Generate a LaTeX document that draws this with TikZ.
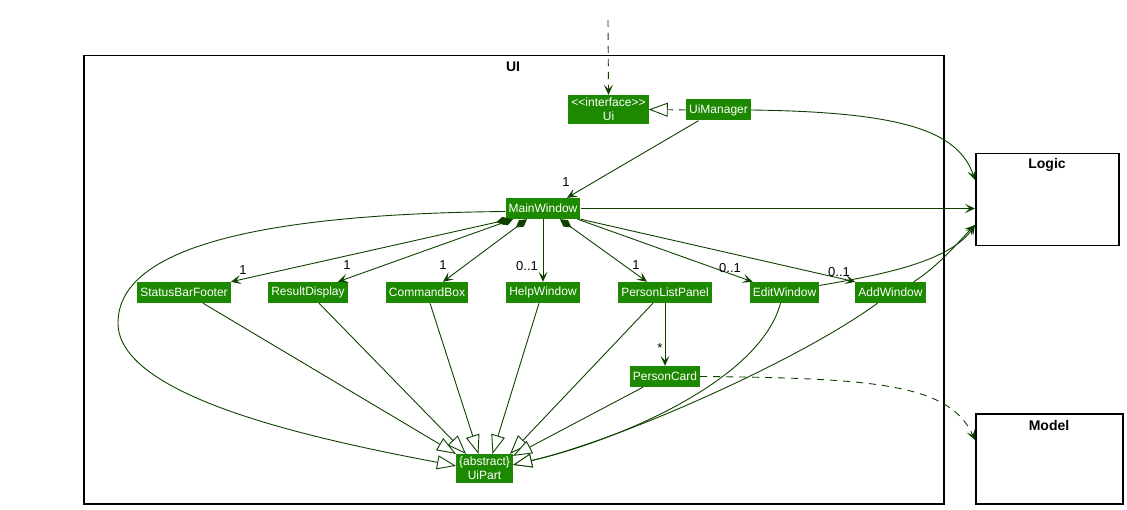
\documentclass[tikz,border=0pt]{standalone}
\usepackage{fontspec}
\usepackage{xcolor}
\newfontfamily\umlfont{Liberation Sans}
\usepackage{tikz}
\usetikzlibrary{arrows.meta,positioning,calc}
\definecolor{uigreen}{HTML}{1D8900}
\definecolor{uiline}{HTML}{0E4100}

\begin{document}
\begin{tikzpicture}[x=1pt,y=-1pt,>={Stealth[length=10pt,width=9pt,inset=4.5pt]},
cls/.style={fill=uigreen,text=white,font=\umlfont\fontsize{12}{14}\selectfont,inner xsep=3pt,inner ysep=0pt,minimum height=21pt,align=center},
pkg/.style={draw=black,line width=1.5pt,anchor=north west},
title/.style={font=\umlfont\bfseries\fontsize{14}{16}\selectfont},
mult/.style={font=\umlfont\fontsize{13}{15}\selectfont,inner sep=0pt},
link/.style={draw=uiline,line width=0.9pt},
assoc/.style={link,->},
comp/.style={link,{Diamond[length=14pt,width=8pt]}->},
ext/.style={link,-{Triangle[fill=white,length=19pt,width=14pt]}},
real/.style={ext,dash pattern=on 7pt off 6pt},
dep/.style={link,->,dash pattern=on 7pt off 6pt}]
\useasboundingbox (0,0) rectangle (1127,510);
\node[pkg,minimum width=860pt,minimum height=448pt](uipkg) at (83,55){};
\node[title](uititle) at (513,67){UI};
\node[pkg,minimum width=143pt,minimum height=92pt](logic) at (975,153){};
\node[title](logictitle) at (1047,165){Logic};
\node[pkg,minimum width=147pt,minimum height=90pt](model) at (975,413){};
\node[title](modeltitle) at (1049,425){Model};

\node[cls,inner ysep=3pt](ui) at (608.5,109.5){<<interface>>\\Ui};
\node[cls](uimgr) at (718.5,110){UiManager};
\node[cls](mw) at (543,208.5){MainWindow};
\node[cls](sbf) at (184,292.5){StatusBarFooter};
\node[cls](rd) at (308,292.5){ResultDisplay};
\node[cls](cb) at (427,292.5){CommandBox};
\node[cls](hw) at (543,292.5){HelpWindow};
\node[cls](plp) at (665,292.5){PersonListPanel};
\node[cls](ew) at (784.5,292.5){EditWindow};
\node[cls](aw) at (890.5,292.5){AddWindow};
\node[cls](pc) at (665,376.5){PersonCard};
\node[cls,inner ysep=3pt](uipart) at (484.5,468.5){\{abstract\}\\UiPart};

\coordinate (caller) at (608,20);
\draw[dep](caller)--(ui.north);
\draw[real](uimgr.west)--(ui.east);
\draw[assoc]([xshift=-20pt]uimgr.south)--([xshift=24pt]mw.north);
\node[mult](m0) at (566,182){1};
\draw[assoc](uimgr.east) .. controls (900,112) and (958,130) .. ([yshift=-27pt]logic.north west);
\draw[assoc](mw.east)--(mw.east -| logic.west);

\draw[comp]([xshift=-33pt]mw.south)--(sbf.north east);
\draw[comp]([xshift=-30pt]mw.south)--([xshift=-10pt]rd.north east);
\draw[comp]([xshift=-16pt]mw.south)--([xshift=16pt]cb.north);
\draw[assoc](mw.south)--(hw.north);
\draw[comp]([xshift=17pt]mw.south)--([xshift=-18pt]plp.north);
\draw[assoc]([xshift=-3pt]mw.south east)--([xshift=3pt]ew.north west);
\draw[assoc](mw.south east)--(aw.north west);
\node[mult](m1) at (243,270){1};
\node[mult](m2) at (347,265){1};
\node[mult](m3) at (443,265){1};
\node[mult](m4) at (527,266){0..1};
\node[mult](m5) at (636,265){1};
\node[mult](m6) at (730,268){0..1};
\node[mult](m7) at (839,272){0..1};

\draw[assoc]([yshift=7pt]ew.east) .. controls (880,275) and (950,262) .. ([yshift=-72pt]logic.north west);
\draw[assoc]([xshift=-12pt]aw.north east) .. controls (940,265) and (960,240) .. ([yshift=-72pt]logic.north west);
\draw[assoc](plp.south)--(pc.north);
\node[mult](mstar) at (660,348){*};

\draw[ext]([yshift=-3pt]mw.west) .. controls (250,214) and (118,250) .. (118,323) .. controls (118,398) and (320,440) .. ([yshift=-12pt]uipart.north west);
\draw[ext]([xshift=19pt]sbf.south)--(uipart.north west);
\draw[ext]([xshift=11pt]rd.south)--([xshift=10pt]uipart.north west);
\draw[ext]([xshift=3pt]cb.south)--([xshift=-6pt]uipart.north);
\draw[ext]([xshift=-4pt]hw.south)--([xshift=8pt]uipart.north);
\draw[ext]([xshift=-12pt]plp.south)--([xshift=-3pt]uipart.north east);
\draw[ext]([xshift=-22pt]pc.south)--([yshift=-2pt]uipart.north east);
\draw[ext]([xshift=-4pt]ew.south) .. controls (760,380) and (620,440) .. ([yshift=-11pt]uipart.north east);
\draw[ext]([xshift=-13pt]aw.south) .. controls (800,360) and (620,440) .. ([yshift=-11pt]uipart.north east);
\draw[dep](pc.east) .. controls (880,378) and (950,385) .. ([yshift=-27pt]model.north west);
\end{tikzpicture}
\end{document}
